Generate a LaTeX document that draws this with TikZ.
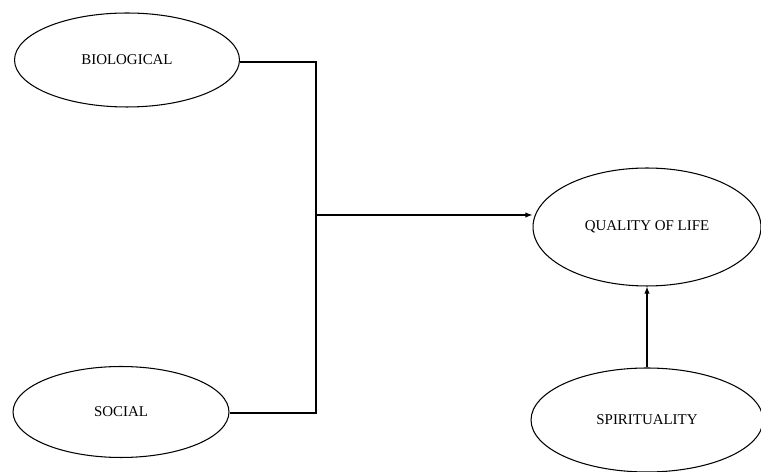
\documentclass[tikz,border=0pt]{standalone}
\usepackage{fontspec}
\setmainfont{Liberation Serif}
\usetikzlibrary{shapes.geometric,arrows.meta}
\tikzset{
	factor/.style={ellipse,draw,semithick,inner sep=0pt,font=\fontsize{8.5}{10}\selectfont},
	link/.style={semithick},
	arr/.style={semithick,-{Latex[length=4pt,width=3pt]}}
}
\begin{document}
\begin{tikzpicture}[x=0.02cm,y=-0.02cm]
\useasboundingbox (0,0) rectangle (761,472);
%factors
\node[factor,minimum width=4.5cm,minimum height=1.88cm] (bio) at (127,60) {BIOLOGICAL};
\node[factor,minimum width=4.32cm,minimum height=1.82cm] (soc) at (121,412) {SOCIAL};
\node[factor,minimum width=4.56cm,minimum height=2.36cm] (qol) at (647,227) {QUALITY OF LIFE};
\node[factor,minimum width=4.64cm,minimum height=2.08cm] (spi) at (647,420) {SPIRITUALITY};

%joins
\coordinate (top) at (316,62);
\coordinate (bot) at (316,413);
\coordinate (mid) at (316,215);
\draw[link] (bio.east |- top) -- (top) -- (bot) -- (soc.east |- bot);
\draw[arr] (mid) -- (mid -| qol.west);
\draw[arr] (spi.north) -- (qol.south);
\end{tikzpicture}
\end{document}
